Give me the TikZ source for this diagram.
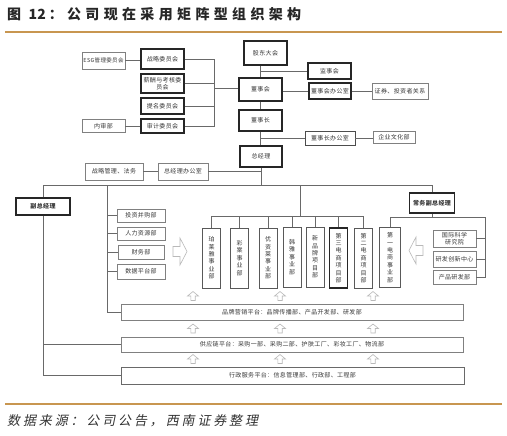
\documentclass[tikz,border=0pt]{standalone}
\usepackage{fontspec}
\newfontfamily\cjk[LetterSpace=6]{Noto Sans CJK SC}
\newfontfamily\cjktitle[LetterSpace=31]{Noto Sans CJK SC}
\newfontfamily\cjktitlenum{Noto Sans CJK SC}
\newfontfamily\cjkcap[FakeSlant=0.2,LetterSpace=22]{Noto Sans CJK SC}
\definecolor{rulec}{RGB}{200,150,80}
\definecolor{txt}{RGB}{55,55,55}
\definecolor{ln}{RGB}{105,105,105}
\tikzset{
  lbox/.style={draw=ln!85, line width=0.6pt, fill=white, align=center, font=\cjk\fontsize{6}{7}\selectfont},
  hbox/.style={lbox, draw=black!85, line width=1.4pt},
  ubox/.style={lbox, draw=black!65, line width=0.9pt, minimum width=18, minimum height=60, font=\cjk\fontsize{6}{7.4}\selectfont},
  conn/.style={draw=ln, line width=0.7pt},
  hol/.style={draw=gray!55, line width=0.6pt, fill=white},
  uparrow/.pic={\draw[hol] (-2.2,4.5) -- (-2.2,0) -- (-5.5,0) -- (0,-4.5) -- (5.5,0) -- (2.2,0) -- (2.2,4.5) -- cycle;},
  rarrow/.pic={\draw[hol] (-7,-5) -- (0,-5) -- (0,-13.5) -- (7,0) -- (0,13.5) -- (0,5) -- (-7,5) -- cycle;},
  larrow/.pic={\draw[hol] (7,-5) -- (0,-5) -- (0,-13.5) -- (-7,0) -- (0,13.5) -- (0,5) -- (7,5) -- cycle;}
}
\begin{document}
\begin{tikzpicture}[x=1pt,y=-1pt, every node/.append style={text=txt, inner sep=0pt}]
\useasboundingbox (0,0) rectangle (507,436);
\fill[white] (0,0) rectangle (507,436);

% title and rules
\node[anchor=west, font=\cjktitle\bfseries\fontsize{14}{16}\selectfont, text=black!85] (title) at (7,14) {图 {\cjktitlenum\bfseries 12}\hspace{3pt}：公司现在采用矩阵型组织架构};
\draw[rulec, line width=1.5pt] (5,32) -- (502,32);
\draw[rulec, line width=1.5pt] (5,404) -- (502,404);
\node[anchor=west, font=\cjkcap\fontsize{13}{15}\selectfont, text=black!80] (cap) at (7,421) {数据来源：公司公告，西南证券整理};

% committees
\node[lbox, minimum width=43, minimum height=17, font=\cjk\fontsize{5.5}{6.5}\selectfont] (esg) at (103.5,60.5) {ESG管理委员会};
\node[hbox, minimum width=43, minimum height=20] (zl) at (162.5,59) {战略委员会};
\node[hbox, minimum width=43, minimum height=19] (xc) at (162.5,83.5) {薪酬与考核委\\员会};
\node[hbox, minimum width=43, minimum height=16] (tm) at (162.5,106) {提名委员会};
\node[hbox, minimum width=43, minimum height=14] (sj) at (162.5,126) {审计委员会};
\node[lbox, minimum width=43, minimum height=13] (ns) at (103.5,126) {内审部};

% board chain
\node[hbox, minimum width=43, minimum height=24] (gd) at (265.5,53) {股东大会};
\node[hbox, minimum width=43, minimum height=16] (jsh) at (329.5,71) {监事会};
\node[hbox, minimum width=43, minimum height=23] (dsh) at (260.5,89.5) {董事会};
\node[hbox, minimum width=42, minimum height=16] (dbg) at (330,91) {董事会办公室};
\node[lbox, minimum width=56, minimum height=16] (zq) at (400,91) {证券、投资者关系};
\node[hbox, minimum width=43, minimum height=21] (dsz) at (260.5,120.5) {董事长};
\node[lbox, draw=black!70, line width=0.8pt, minimum width=50, minimum height=14] (dzb) at (330,138) {董事长办公室};
\node[lbox, minimum width=42, minimum height=12] (qy) at (394,137) {企业文化部};
\node[hbox, minimum width=42, minimum height=21] (zjl) at (261,156.5) {总经理};
\node[lbox, minimum width=58, minimum height=17] (zlgl) at (114,171.5) {战略管理、法务};
\node[lbox, minimum width=50, minimum height=17] (zjb) at (183,171.5) {总经理办公室};

% vice managers
\node[hbox, minimum width=54, minimum height=17, font=\cjk\bfseries\fontsize{6}{7}\selectfont] (fz) at (43,206.5) {副总经理};
\node[hbox, minimum width=45, minimum height=20, font=\cjk\bfseries\fontsize{6}{7}\selectfont] (cw) at (432,203) {常务副总经理};

% left column
\node[lbox, minimum width=48, minimum height=13] (tz) at (141,215.5) {投资并购部};
\node[lbox, minimum width=48, minimum height=13] (rl) at (141,233.5) {人力资源部};
\node[lbox, minimum width=46, minimum height=14] (cwb) at (141,252) {财务部};
\node[lbox, minimum width=48, minimum height=15] (sjp) at (141,271.5) {数据平台部};

% business units
\node[ubox] (u1) at (211.5,258) {珀\\莱\\雅\\事\\业\\部};
\node[ubox] (u2) at (239.5,258) {彩\\棠\\事\\业\\部};
\node[ubox] (u3) at (268,258) {优\\资\\莱\\事\\业\\部};
\node[ubox] (u4) at (292,257) {韩\\雅\\事\\业\\部};
\node[ubox] (u5) at (315,257) {新\\品\\牌\\项\\目\\部};
\node[ubox, draw=black!85, line width=1.3pt] (u6) at (338.5,258) {第\\三\\电\\商\\项\\目\\部};
\node[ubox] (u7) at (363.5,258) {第\\二\\电\\商\\项\\目\\部};
\node[ubox, minimum width=21] (u8) at (390,257.5) {第\\一\\电\\商\\事\\业\\部};

% right column
\node[lbox, minimum width=43, minimum height=17] (gj) at (454.5,238.5) {国际科学\\研究院};
\node[lbox, minimum width=43, minimum height=16] (yf) at (454.5,259) {研发创新中心};
\node[lbox, minimum width=43, minimum height=14] (cp) at (454.5,277) {产品研发部};

% platforms
\node[lbox, minimum width=342, minimum height=16] (pp) at (292,312) {品牌营销平台：品牌传播部、产品开发部、研发部};
\node[lbox, minimum width=342, minimum height=15] (gy) at (292,344.5) {供应链平台：采购一部、采购二部、护肤工厂、彩妆工厂、物流部};
\node[lbox, draw=ln, line width=0.8pt, minimum width=343, minimum height=17] (xz) at (292.5,375.5) {行政服务平台：信息管理部、行政部、工程部};

% hollow arrows
\foreach \ax in {193,280,373} {
  \pic at (\ax,296) {uparrow};
  \pic at (\ax,328.5) {uparrow};
  \pic at (\ax,359) {uparrow};
}
\pic at (180,251.5) {rarrow};
\pic at (416,250.5) {larrow};

% junction coordinates
\coordinate (cb) at (214,88);
\coordinate (bus) at (261,185.5);
\coordinate (lt) at (107,185.5);
\coordinate (ub) at (300,216);
\coordinate (rb) at (485,217);

% connectors
\draw[conn] (esg.east) -- (esg.east -| zl.west);
\draw[conn] (ns.east) -- (ns.east -| sj.west);
\draw[conn] (zl.east) -- (zl.east -| cb) -- (cb |- sj.east) -- (sj.east);
\draw[conn] (xc.east) -- (xc.east -| cb);
\draw[conn] (tm.east) -- (tm.east -| cb);
\draw[conn] (cb) -- (cb -| dsh.west);
\draw[conn] (gd.south -| dsh.north) -- (dsh.north);
\draw[conn] (dsh.north |- jsh.west) -- (jsh.west);
\draw[conn] (dbg.west -| dsh.east) -- (dbg.west);
\draw[conn] (dbg.east) -- (zq.west);
\draw[conn] (dsh.south) -- (dsh.south |- dsz.north);
\draw[conn] (dsz.south) -- (dsz.south |- zjl.north);
\draw[conn] (dsz.south |- dzb.west) -- (dzb.west);
\draw[conn] (dzb.east) -- (dzb.east -| qy.west);
\draw[conn] (zjl.south) -- (zjl.south |- bus);
\draw[conn] (zjb.east) -- (zjb.east -| zjl.south);
\draw[conn] (zlgl.east) -- (zjb.west);
\draw[conn] (fz.north) -- (fz.north |- bus) -- (cw.north |- bus) -- (cw.north);
\draw[conn] (lt) -- (lt |- pp.west) -- (pp.west);
\foreach \n in {tz,rl,cwb,sjp} \draw[conn] (lt |- \n.west) -- (\n.west);
\draw[conn] (ub |- bus) -- (ub);
\draw[conn] (u1.north |- ub) -- (u7.north |- ub);
\foreach \i in {1,...,7} \draw[conn] (u\i.north |- ub) -- (u\i.north);
\draw[conn] (u8.north) -- (u8.north |- rb) -- (rb) -- (rb |- cp.east) -- (cp.east);
\draw[conn] (cw.south) -- (cw.south |- rb);
\draw[conn] (gj.east) -- (gj.east -| rb);
\draw[conn] (yf.east) -- (yf.east -| rb);
\draw[conn] (fz.south) -- (fz.south |- xz.west) -- (xz.west);
\draw[conn] (fz.south |- gy.west) -- (gy.west);
\end{tikzpicture}
\end{document}
